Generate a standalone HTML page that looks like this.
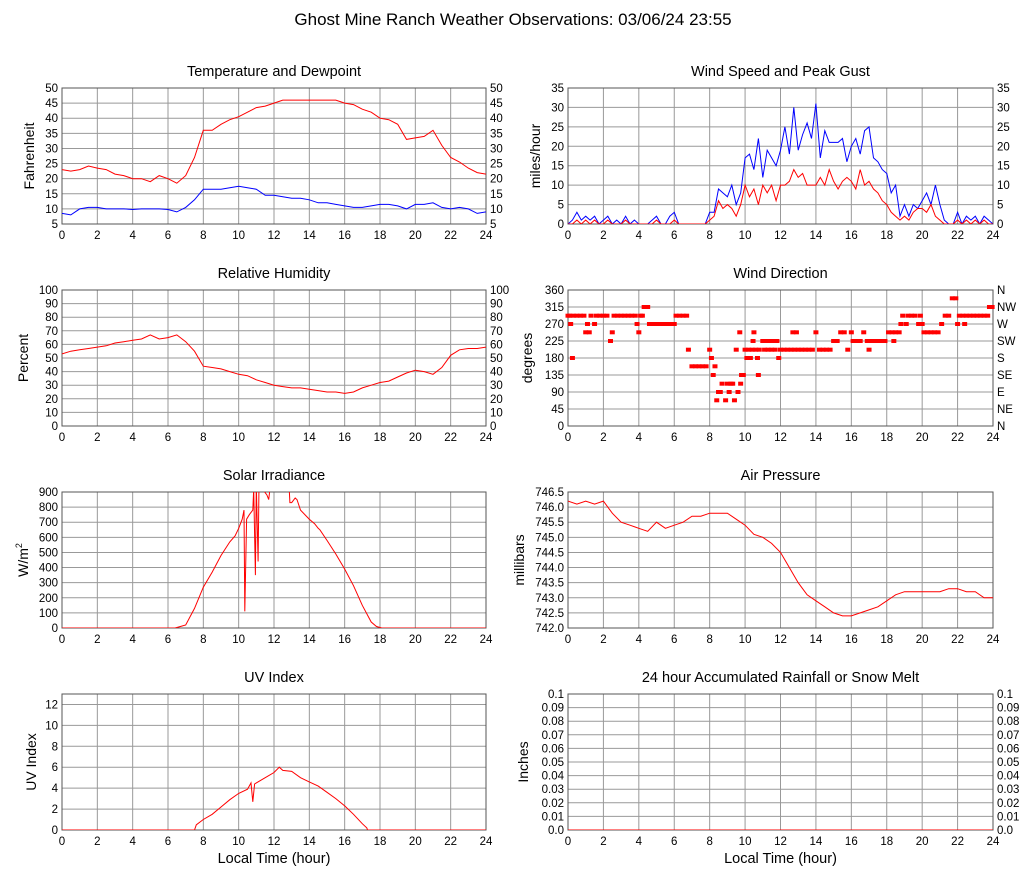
<!DOCTYPE html>
<html><head><meta charset="utf-8"><style>
body{margin:0;background:#fff;}
svg{display:block;font-family:"Liberation Sans",sans-serif;}
</style></head><body>
<svg id="chart" width="1027" height="878" viewBox="0 0 1027 878">
<text x="513" y="25" text-anchor="middle" font-size="17">Ghost Mine Ranch Weather Observations: 03/06/24 23:55</text>
</svg>
<script>
// ---- data ----
const hours05 = [0,0.5,1,1.5,2,2.5,3,3.5,4,4.5,5,5.5,6,6.5,7,7.5,8,8.5,9,9.5,10,10.5,11,11.5,12,12.5,13,13.5,14,14.5,15,15.5,16,16.5,17,17.5,18,18.5,19,19.5,20,20.5,21,21.5,22,22.5,23,23.5,24];
const tempValues = [23,22.5,23,24.2,23.5,23,21.5,21,20,20,19,21,20,18.5,21,27,36,36,38,39.5,40.5,42,43.5,44,45,46,46,46,46,46,46,46,45,44.5,43,42,40,39.5,38,33,33.5,34,36,31,27,25.5,23.5,22,21.5];
const dewValues = [8.5,8,10,10.5,10.5,10,10,10,9.8,10,10,10,9.8,9,10.5,13,16.5,16.5,16.5,17,17.5,17,16.5,14.5,14.5,14,13.5,13.5,13,12,12,11.5,11,10.5,10.5,11,11.5,11.5,11,10,11.5,11.5,12,10.5,10,10.5,10,8.5,9];
const humidityValues = [53,55,56,57,58,59,61,62,63,64,67,64,65,67,62,55,44,43,42,40,38,37,34,32,30,29,28,28,27,26,25,25,24,25,28,30,32,33,36,39,41,40,38,43,52,56,57,57,58];
const pressureValues = [746.2,746.1,746.2,746.1,746.2,745.8,745.5,745.4,745.3,745.2,745.5,745.3,745.4,745.5,745.7,745.7,745.8,745.8,745.8,745.6,745.4,745.1,745.0,744.8,744.5,744.0,743.5,743.1,742.9,742.7,742.5,742.4,742.4,742.5,742.6,742.7,742.9,743.1,743.2,743.2,743.2,743.2,743.2,743.3,743.3,743.2,743.2,743.0,743.0];
const windHours = [0,0.25,0.5,0.75,1,1.25,1.5,1.75,2,2.25,2.5,2.75,3,3.25,3.5,3.75,4,4.25,4.5,4.75,5,5.25,5.5,5.75,6,6.25,6.5,6.75,7,7.25,7.5,7.75,8,8.25,8.5,8.75,9,9.25,9.5,9.75,10,10.25,10.5,10.75,11,11.25,11.5,11.75,12,12.25,12.5,12.75,13,13.25,13.5,13.75,14,14.25,14.5,14.75,15,15.25,15.5,15.75,16,16.25,16.5,16.75,17,17.25,17.5,17.75,18,18.25,18.5,18.75,19,19.25,19.5,19.75,20,20.25,20.5,20.75,21,21.25,21.5,21.75,22,22.25,22.5,22.75,23,23.25,23.5,23.75,24];
const gustValues = [0,1,3,1,2,1,2,0,1,2,0,1,0,2,0,1,0,0,0,1,2,0,0,2,3,0,0,0,0,0,0,0,3,3,9,8,7,10,5,8,17,18,14,22,12,19,17,15,19,25,18,30,19,23,26,22,31,17,24,21,21,21,22,16,20,22,18,24,25,17,16,14,13,8,10,2,5,2,5,4,6,8,5,10,5,1,0,0,3,0,2,1,2,0,2,1,0];
const speedValues = [0,0,1,0,1,0,1,0,0,1,0,0,0,1,0,0,0,0,0,0,1,0,0,0,1,0,0,0,0,0,0,0,1,2,6,4,5,4,2,5,10,7,9,5,10,8,10,6,10,10,11,14,12,13,10,10,10,12,10,14,11,9,11,12,11,9,14,10,11,9,8,6,5,3,2,1,2,1,3,4,4,3,5,2,1,0,0,0,1,0,1,0,1,0,1,0,0];
const dirHours = [0,0.1,0.15,0.25,0.3,0.5,0.7,0.9,1.0,1.1,1.2,1.3,1.5,1.6,1.8,2.0,2.2,2.4,2.5,2.6,2.8,3.0,3.2,3.4,3.6,3.8,3.9,4.0,4.1,4.2,4.3,4.5,4.6,4.8,5.0,5.2,5.4,5.6,5.8,6.0,6.1,6.3,6.5,6.7,6.8,7.0,7.2,7.4,7.6,7.8,8.0,8.1,8.2,8.3,8.4,8.5,8.6,8.7,8.9,9.0,9.1,9.2,9.3,9.4,9.5,9.6,9.7,9.75,9.8,9.9,10.0,10.1,10.2,10.3,10.4,10.45,10.5,10.6,10.7,10.75,10.8,11.0,11.1,11.2,11.3,11.4,11.5,11.6,11.7,11.8,11.9,12.0,12.2,12.4,12.6,12.7,12.8,12.9,13.0,13.2,13.4,13.6,13.8,14.0,14.2,14.4,14.6,14.8,15.0,15.2,15.4,15.6,15.8,16.0,16.1,16.3,16.5,16.7,16.9,17.0,17.1,17.3,17.5,17.7,17.9,18.1,18.3,18.4,18.5,18.7,18.8,18.9,19.1,19.2,19.4,19.6,19.8,19.9,20.0,20.1,20.3,20.5,20.7,20.9,21.1,21.3,21.5,21.7,21.9,22.0,22.1,22.3,22.4,22.5,22.7,22.9,23.1,23.3,23.5,23.7,23.8,23.95];
const dirValues = [292,292,270,180,292,292,292,292,248,270,248,292,270,292,292,292,292,225,248,292,292,292,292,292,292,292,270,248,292,292,315,315,270,270,270,270,270,270,270,270,292,292,292,292,202,158,158,158,158,158,202,180,135,158,68,90,90,112,68,112,90,112,112,68,202,90,248,112,135,135,202,180,202,180,202,225,248,202,180,135,202,225,202,225,202,225,202,225,202,225,180,202,202,202,202,248,202,248,202,202,202,202,202,248,202,202,202,202,225,225,248,248,202,248,225,225,225,248,225,202,225,225,225,225,225,248,248,225,248,248,270,292,270,292,292,292,270,292,270,248,248,248,248,248,270,292,292,338,338,270,292,292,270,292,292,292,292,292,292,292,315,315];
const solarHours = [0,6.4,6.7,7,7.5,8,8.5,9,9.5,9.8,10,10.2,10.3,10.35,10.45,10.6,10.8,10.85,10.95,11.0,11.1,11.15,11.6,11.7,11.8,12.85,12.9,13,13.2,13.3,13.5,14,14.3,14.5,14.6,15,15.5,16,16.5,17,17.5,17.8,18,18.1,24];
const solarValues = [0,0,10,20,130,270,370,480,570,610,660,720,780,110,720,750,780,920,350,950,440,950,880,850,950,950,830,830,860,850,780,720,690,660,650,580,490,390,280,150,40,10,3,0,0];
const uvHours = [0,7.5,7.6,8,8.5,9,9.5,10,10.5,10.7,10.8,10.9,11,11.5,12,12.3,12.5,13,13.5,14,14.5,15,15.5,16,16.5,17,17.25,17.3,24];
const uvValues = [0,0,0.5,1,1.5,2.2,2.9,3.5,3.9,4.5,2.7,4.4,4.5,5,5.5,6,5.7,5.6,5,4.6,4.2,3.6,3,2.3,1.5,0.6,0.2,0,0];
const rainHours = [0,24];
const rainValues = [0,0];
const xTickLabels = ["0","2","4","6","8","10","12","14","16","18","20","22","24"];

const svg = document.getElementById('chart');
const NS = 'http://www.w3.org/2000/svg';
function mk(tag, attrs, parent){ const e=document.createElementNS(NS,tag); for(const k in attrs) e.setAttribute(k,attrs[k]); (parent||svg).appendChild(e); return e; }

function panel(p){
  const g = mk('g',{});
  
  
  const xs = h => p.x + h/24*p.w;
  const ys = v => p.y + p.h - (v-p.ymin)/(p.ymax-p.ymin)*p.h;
  const t = mk('text',{x:p.x+p.w/2,y:p.y-12,'text-anchor':'middle','font-size':14.5},g);
  t.textContent = p.title;
  
  
  // grid
  xTickLabels.forEach((lab,i)=>{
    const h = i*2, X = xs(h);
    const l = mk('line',{x1:X,x2:X,y1:p.y,y2:p.y+p.h,stroke:'#999','stroke-width':1},g);
    
    
    const tx = mk('text',{x:X,y:p.y+p.h+15,'text-anchor':'middle','font-size':11.5},g);
    tx.textContent = lab;
    
    
  });
  p.yticks.forEach((v,i)=>{
    const Y = ys(v);
    const l = mk('line',{x1:p.x,x2:p.x+p.w,y1:Y,y2:Y,stroke:'#999','stroke-width':1},g);
    
    
    const ty = mk('text',{x:p.x-4,y:Y+4,'text-anchor':'end','font-size':11.5},g);
    ty.textContent = p.ylabels[i];
    
    
    if(p.rlabels){
      const tr = mk('text',{x:p.x+p.w+4,y:Y+4,'text-anchor':'start','font-size':11.5},g);
      tr.textContent = p.rlabels[i];
      
      
    }
  });
  const fr = mk('rect',{x:p.x,y:p.y,width:p.w,height:p.h,fill:'none',stroke:'#555','stroke-width':1},g);
  
  
  const yl = mk('text',{x:0,y:0,'text-anchor':'middle','font-size':14,transform:`translate(${p.x-p.ylOff},${p.y+p.h/2}) rotate(-90)`},g);
  yl.innerHTML = p.ylabel;
  
  
  if(p.xlabel){
    const xl = mk('text',{x:p.x+p.w/2,y:p.y+p.h+33,'text-anchor':'middle','font-size':14.5},g);
    xl.textContent = 'Local Time (hour)';
    
    
  }
  const cid = 'clip-'+p.name;
  const cp = mk('clipPath',{id:cid},g);
  mk('rect',{x:p.x,y:p.y,width:p.w,height:p.h},cp);
  (p.series||[]).forEach(s=>{
    const d = s.hx.map((h,i)=>(i?'L':'M')+xs(h).toFixed(1)+','+ys(s.vals[i]).toFixed(1)).join('');
    const path = mk('path',{d:d,fill:'none',stroke:s.color,'stroke-width':1,'clip-path':`url(#${cid})`},g);
    
    
  });
  if(p.points){
    p.points.hx.forEach((h,i)=>{
      const r = mk('rect',{x:xs(h)-2.5,y:ys(p.points.vals[i])-2,width:5,height:4,fill:'#f00'},g);
      
      
    });
  }
}
const range=(a,b,s)=>{const r=[];for(let v=a;v<=b+1e-9;v+=s)r.push(+v.toFixed(2));return r;};
const L=62, R=568, W=424, WR=425, H=136;

let t1=range(5,50,5);
panel({name:'temperature-panel',title:'Temperature and Dewpoint',x:L,y:88,w:W,h:H,ymin:5,ymax:50,yticks:t1,ylabels:t1.map(String),rlabels:t1.map(String),ylabel:'Fahrenheit',ylOff:28,
  series:[{name:'temperature-line',hx:hours05,vals:tempValues,color:'#f00'},{name:'dewpoint-line',hx:hours05,vals:dewValues,color:'#00f'}]});
let t2=range(0,35,5);
panel({name:'wind-speed-panel',title:'Wind Speed and Peak Gust',x:R,y:88,w:WR,h:H,ymin:0,ymax:35,yticks:t2,ylabels:t2.map(String),rlabels:t2.map(String),ylabel:'miles/hour',ylOff:28,
  series:[{name:'gust-line',hx:windHours,vals:gustValues,color:'#00f'},{name:'speed-line',hx:windHours,vals:speedValues,color:'#f00'}]});
let t3=range(0,100,10);
panel({name:'humidity-panel',title:'Relative Humidity',x:L,y:290,w:W,h:H,ymin:0,ymax:100,yticks:t3,ylabels:t3.map(String),rlabels:t3.map(String),ylabel:'Percent',ylOff:34,
  series:[{name:'humidity-line',hx:hours05,vals:humidityValues,color:'#f00'}]});
let t4=range(0,360,45);
panel({name:'wind-direction-panel',title:'Wind Direction',x:R,y:290,w:WR,h:H,ymin:0,ymax:360,yticks:t4,ylabels:t4.map(String),rlabels:['N','NE','E','SE','S','SW','W','NW','N'],ylabel:'degrees',ylOff:36,
  points:{hx:dirHours,vals:dirValues}});
let t5=range(0,900,100);
panel({name:'solar-panel',title:'Solar Irradiance',x:L,y:492,w:W,h:H,ymin:0,ymax:900,yticks:t5,ylabels:t5.map(String),ylabel:'W/m<tspan dy="-6" font-size="9">2</tspan>',ylOff:34,
  series:[{name:'solar-line',hx:solarHours,vals:solarValues,color:'#f00'}]});
let t6=range(742,746.5,0.5);
panel({name:'pressure-panel',title:'Air Pressure',x:R,y:492,w:WR,h:H,ymin:742,ymax:746.5,yticks:t6,ylabels:t6.map(v=>v.toFixed(1)),ylabel:'millibars',ylOff:44,
  series:[{name:'pressure-line',hx:hours05,vals:pressureValues,color:'#f00'}]});
let t7=range(0,12,2);
panel({name:'uv-panel',title:'UV Index',x:L,y:694,w:W,h:H,ymin:0,ymax:13,yticks:t7,ylabels:t7.map(String),ylabel:'UV Index',ylOff:26,xlabel:true,
  series:[{name:'uv-line',hx:uvHours,vals:uvValues,color:'#f00'}]});
let t8=range(0,0.1,0.01);
panel({name:'rain-panel',title:'24 hour Accumulated Rainfall or Snow Melt',x:R,y:694,w:WR,h:H,ymin:0,ymax:0.1,yticks:t8,ylabels:t8.map(v=>v===0?'0.0':(v===0.1?'0.1':String(v))),rlabels:t8.map(v=>v===0?'0.0':(v===0.1?'0.1':String(v))),ylabel:'Inches',ylOff:40,xlabel:true,
  series:[{name:'rain-line',hx:rainHours,vals:rainValues,color:'#f00'}]});
</script>
</body></html>
